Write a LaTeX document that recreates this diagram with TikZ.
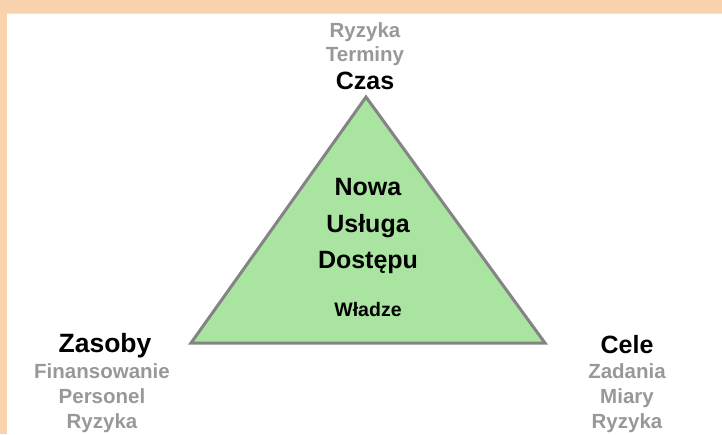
\documentclass[tikz,border=0pt]{standalone}
\usepackage{fontspec}
\setmainfont{Liberation Sans}
\definecolor{brzeg}{HTML}{F9D3AE}
\definecolor{zielony}{HTML}{A9E5A0}
\definecolor{obrys}{HTML}{848484}
\definecolor{szary}{HTML}{989898}
\begin{document}
\begin{tikzpicture}[x=1pt, y=-1pt,
    czarny/.style={font=\bfseries\fontsize{25}{30}\selectfont, anchor=base, inner sep=0pt},
    szary/.style={font=\bfseries\fontsize{20.5}{25}\selectfont, text=szary, anchor=base, inner sep=0pt},
    srodek/.style={font=\bfseries\fontsize{25}{30}\selectfont, anchor=base, inner sep=0pt}]
    \useasboundingbox (0,0) rectangle (722,434);
    % Ramka
    \fill[brzeg] (0,0) rectangle (722,13);
    \fill[brzeg] (0,0) rectangle (7,434);
    \draw[brzeg!60, line width=1.5pt] (7,13.5) -- (722,13.5);

    % Trojkat
    \coordinate (czas) at (366,97);
    \coordinate (zasoby) at (191,343);
    \coordinate (cele) at (545,343);
    \draw[obrys, fill=zielony, line width=3pt, line join=miter] (czas) -- (cele) -- (zasoby) -- cycle;

    % Wnetrze
    \node[srodek] (nowa) at (368,195) {Nowa};
    \node[srodek] (usluga) at (368,232) {Usługa};
    \node[srodek] (dostepu) at (368,268) {Dostępu};
    \node[czarny, font=\bfseries\fontsize{19.5}{24}\selectfont] (wladze) at (368,316) {Władze};

    % Wierzcholki
    \node[czarny] (lczas) at (365,89) {Czas};
    \node[szary] (terminy) at (365,61) {Terminy};
    \node[szary] (ryzyka1) at (365,37) {Ryzyka};

    \node[czarny, font=\bfseries\fontsize{26.5}{30}\selectfont] (lzasoby) at (105,352) {Zasoby};
    \foreach \tekst/\y [count=\i] in {Finansowanie/378, Personel/403, Ryzyka/428}
        \node[szary] (zasoby\i) at (102,\y) {\tekst};

    \node[czarny] (lcele) at (627,353) {Cele};
    \foreach \tekst/\y [count=\i] in {Zadania/378, Miary/403, Ryzyka/428}
        \node[szary] (cele\i) at (627,\y) {\tekst};
\end{tikzpicture}
\end{document}
